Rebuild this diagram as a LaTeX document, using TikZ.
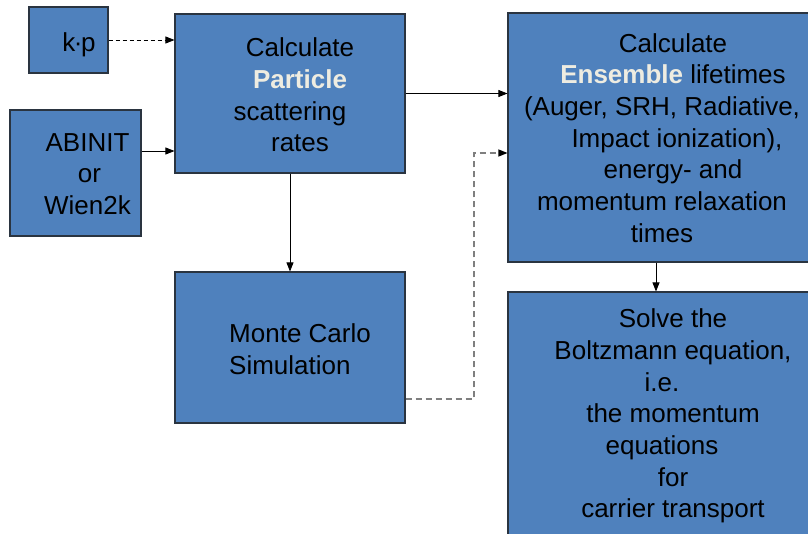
\documentclass[tikz,border=0pt]{standalone}
\usepackage{fontspec}
\setmainfont{Liberation Sans}
\usetikzlibrary{arrows.meta,calc}
\definecolor{boxfill}{HTML}{4F81BD}
\definecolor{boxline}{HTML}{2A3440}
\definecolor{hl}{HTML}{EEECE1}
\definecolor{dashgray}{HTML}{7F7F7F}
\tikzset{
  box/.style={draw=boxline, fill=boxfill, line width=1.1pt, inner sep=0pt},
  txt/.style={font=\fontsize{26}{31.7}\selectfont, text=black, inner sep=0pt, align=center},
  conn/.style={line width=0.8pt, -{Triangle[length=9pt,width=7pt]}},
  dconn/.style={conn, dash pattern=on 4pt off 3pt},
  gconn/.style={line width=1.2pt, draw=dashgray, dash pattern=on 6pt off 4pt, -{Triangle[length=9pt,width=7pt,color=black]}}
}
\begin{document}
\begin{tikzpicture}[x=1pt,y=-1pt]
\path[use as bounding box, clip] (0,0) rectangle (808,533);
\fill[white] (0,0) rectangle (808,533);
% boxes
\node[box, minimum width=79pt, minimum height=66pt] (kp) at (68.5,40) {};
\node[box, minimum width=131pt, minimum height=126pt] (abinit) at (75.5,173) {};
\node[box, minimum width=230pt, minimum height=159pt] (part) at (290,93.5) {};
\node[box, minimum width=330pt, minimum height=249pt] (ens) at (673,137.5) {};
\node[box, minimum width=230pt, minimum height=151pt] (mc) at (290,347.5) {};
\node[box, minimum width=330pt, minimum height=256pt] (boltz) at (673,420) {};
% texts
\node[txt] (kpT) at (79,45) {k\kern-1.5pt\textperiodcentered\kern-1.5pt p};
\node[txt] (abT) at (87.5,174) {ABINIT\\\hspace*{4pt}or\\Wien2k};
\node[txt] (partT) at (300,95) {Calculate\\\textcolor{hl}{\bfseries Particle}\\\hspace*{-20pt}scattering\\rates};
\node[txt] (ensT) at (673,138) {Calculate\\\textcolor{hl}{\bfseries Ensemble} lifetimes\\\hspace*{-22pt}(Auger, SRH, Radiative,\\\hspace*{8pt}Impact ionization),\\energy- and\\\hspace*{-22pt}momentum relaxation\\\hspace*{-22pt}times};
\node[txt, align=left, anchor=west] (mcT) at (229,349) {Monte Carlo\\Simulation};
\node[txt] (boltzT) at (673,416) {Solve the\\Boltzmann equation,\\\hspace*{-22pt}i.e.\\the momentum\\\hspace*{-22pt}equations\\for\\carrier transport};
% connectors
\draw[dconn] (kp.east) -- (kp.east -| part.west);
\coordinate (abOut) at ($(abinit.east)+(0,-22)$);
\draw[conn] (abOut) -- (abOut -| part.west);
\draw[conn] (part.east) -- (part.east -| ens.west);
\draw[conn] (part.south) -- (mc.north);
\coordinate (mcOut) at ($(mc.east)+(0,51.5)$);
\coordinate (bendA) at (474,399);
\coordinate (bendB) at (474,153);
\draw[gconn] (mcOut) -- (bendA) -- (bendB) -- (bendB -| ens.west);
\coordinate (ensOut) at (ens.south -| 656,0);
\draw[conn] (ensOut) -- (ensOut |- boltz.north);
\end{tikzpicture}
\end{document}
